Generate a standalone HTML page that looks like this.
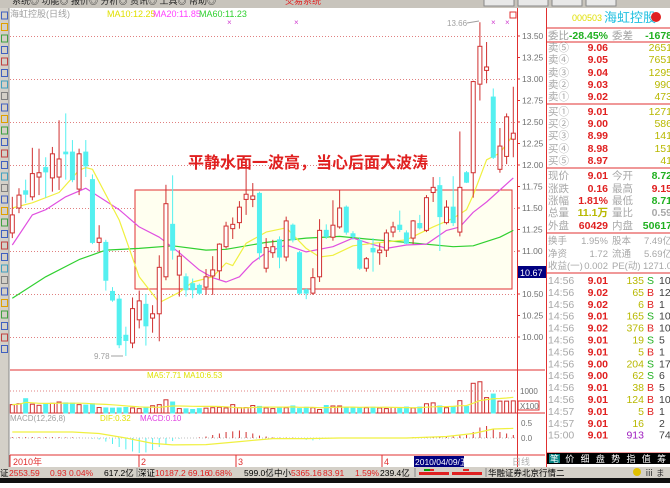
<!DOCTYPE html>
<html><head><meta charset="utf-8">
<style>
html,body{margin:0;padding:0;background:#fff;}
body{width:670px;height:483px;overflow:hidden;position:relative;font-family:"Liberation Sans","WenQuanYi Zen Hei","Noto Sans CJK SC",sans-serif;}
svg text{font-family:"Liberation Sans","WenQuanYi Zen Hei","Noto Sans CJK SC",sans-serif;}
</style></head>
<body>
<svg id="root" width="670" height="483" viewBox="0 0 670 483" xmlns="http://www.w3.org/2000/svg">
  <rect x="0" y="0" width="670" height="483" fill="#ffffff"/>
  <g>
    <rect x="0" y="0" width="670" height="8" fill="#c8c4bc"/>
    <text x="12" y="4" font-size="9" fill="#222">系统◎   功能◎   报价◎   分析◎   资讯◎   工具◎   帮助◎</text>
    <text x="285" y="4" font-size="9" fill="#e02020">交易系统</text>
    <rect x="484" y="-3" width="30" height="9" fill="#e8e8e8" stroke="#888"/>
    <rect x="518" y="-3" width="30" height="9" fill="#e8e8e8" stroke="#888"/>
    <rect x="552" y="-3" width="30" height="9" fill="#e8e8e8" stroke="#888"/>
    <rect x="586" y="-3" width="30" height="9" fill="#e8e8e8" stroke="#888"/>
  </g>
  <g>
    <rect x="0" y="8" width="9" height="460" fill="#d4d0c8"/>
    <line x1="9" y1="8" x2="9" y2="467" stroke="#888"/>
  </g>
  <g id="tbicons"></g>

  <g stroke="#e03030" fill="none">
    <line x1="10" y1="370" x2="545" y2="370"/>
    <line x1="10" y1="413" x2="545" y2="413"/>
    <line x1="10" y1="455" x2="545" y2="455"/>
    <line x1="517.5" y1="8" x2="517.5" y2="467"/>
    <line x1="546.5" y1="8" x2="546.5" y2="467"/>
    <line x1="10" y1="455" x2="10" y2="467"/>
  </g>

  <g id="grid"></g>
  <rect x="135" y="190" width="377" height="99" fill="#fffff0" stroke="#e03030" stroke-width="1"/>
  <g id="mas"></g>
  <g id="candles"></g>
  <g id="yaxis"></g>

  <text x="10" y="17" font-size="9" fill="#a0a0a0">海虹控股(日线)</text>
  <text x="107" y="17" font-size="9" fill="#e0e000">MA10:12.25</text>
  <text x="153" y="17" font-size="9" fill="#ff40ff">MA20:11.85</text>
  <text x="199" y="17" font-size="9" fill="#30d030">MA60:11.23</text>
  <g fill="#d040d0" font-size="8">
    <text x="227" y="25">×</text><text x="294" y="25">×</text><text x="491" y="25">×</text><text x="505" y="25">×</text>
  </g>
  <rect x="510" y="12" width="6" height="6" fill="none" stroke="#e03030"/>

  <text x="188" y="168" font-size="16" font-weight="bold" fill="#e02020">平静水面一波高，当心后面大波涛</text>
  <text x="447" y="26" font-size="8" fill="#a0a0a0">13.66</text>
  <line x1="467" y1="23" x2="479" y2="21" stroke="#a0a0a0"/>
  <text x="94" y="359" font-size="8" fill="#a0a0a0">9.78</text>
  <line x1="111" y1="356" x2="123" y2="356" stroke="#a0a0a0"/>
  <rect x="518" y="266" width="28" height="12" fill="#000080"/>
  <text x="520" y="276" font-size="9" fill="#fff">10.67</text>

  <text x="147" y="378" font-size="8" fill="#e0e000">MA5:7.71 MA10:6.53</text>
  <g id="vol"></g>
  <line x1="10" y1="391" x2="517" y2="391" stroke="#e08080" stroke-dasharray="1,2"/>
  <text x="520" y="394" font-size="8" fill="#707070">1000</text>
  <rect x="518" y="401" width="21" height="9" fill="none" stroke="#e03030"/>
  <text x="520" y="409" font-size="8" fill="#707070">X100</text>

  <text x="10" y="421" font-size="8" fill="#a0a0a0">MACD(12,26,8)</text>
  <text x="100" y="421" font-size="8" fill="#e0e000">DIF:0.32</text>
  <text x="140" y="421" font-size="8" fill="#e040e0">MACD:0.10</text>
  <line x1="10" y1="438" x2="517" y2="438" stroke="#c0c0c0" stroke-dasharray="1,2"/>
  <text x="521" y="426" font-size="8" fill="#707070">0.5</text>
  <text x="521" y="441" font-size="8" fill="#707070">0.0</text>
  <g id="macd"></g>

  <g font-size="9">
    <text x="13" y="465" fill="#e03030">2010年</text>
    <line x1="139" y1="455" x2="139" y2="467" stroke="#e03030"/><text x="141" y="465" fill="#e03030">2</text>
    <line x1="236" y1="455" x2="236" y2="467" stroke="#e03030"/><text x="238" y="465" fill="#e03030">3</text>
    <line x1="382" y1="455" x2="382" y2="467" stroke="#e03030"/><text x="384" y="465" fill="#e03030">4</text>
    <rect x="414" y="456" width="50" height="11" fill="#000080"/>
    <text x="415" y="465" fill="#fff" font-size="8.5">2010/04/09/五</text>
    <text x="512" y="465" fill="#b0b0b0">日线</text>
  </g>

  <g font-size="8.5">
    <rect x="0" y="467" width="670" height="11" fill="#d4d0c8"/>
    <rect x="0" y="478" width="670" height="5" fill="#101010"/>
    <text x="0" y="476" fill="#000">证</text>
    <text x="9" y="476" fill="#e02020">2553.59</text>
    <text x="50" y="476" fill="#e02020">0.93</text>
    <text x="69" y="476" fill="#e02020">0.04%</text>
    <text x="104" y="476" fill="#000">617.2亿</text>
    <line x1="137" y1="468" x2="137" y2="477" stroke="#888"/>
    <text x="138" y="476" fill="#000">深证</text>
    <text x="155" y="476" fill="#e02020">10187.2</text>
    <text x="188" y="476" fill="#e02020">69.16</text>
    <text x="208" y="476" fill="#e02020">0.68%</text>
    <text x="244" y="476" fill="#000">599.0亿</text>
    <line x1="272" y1="468" x2="272" y2="477" stroke="#888"/>
    <text x="274" y="476" fill="#000">中小</text>
    <text x="291" y="476" fill="#e02020">5365.16</text>
    <text x="323" y="476" fill="#e02020">83.91</text>
    <text x="355" y="476" fill="#e02020">1.59%</text>
    <text x="380" y="476" fill="#000">239.4亿</text>
    <line x1="415" y1="468" x2="415" y2="477" stroke="#888"/>
    <g fill="#e02020"><rect x="419" y="472" width="30" height="3"/><rect x="452" y="472" width="30" height="3"/></g>
    <rect x="424" y="469" width="6" height="2" fill="#00a000"/><rect x="430" y="469" width="4" height="2" fill="#e02020"/><rect x="463" y="469" width="6" height="2" fill="#e02020"/>
    <line x1="486" y1="468" x2="486" y2="477" stroke="#888"/>
    <text x="488" y="476" fill="#000">华融证券北京行情二</text>
    <circle cx="637" cy="472" r="4" fill="#e0c000"/>
    <text x="645" y="476" fill="#333">ⅲ</text>
    <text x="656" y="476" fill="#333">ま</text>
  </g>

  <g id="rp" font-size="10.5">
    <text x="572" y="21" font-size="9" fill="#e0e000">000503</text>
    <text x="604" y="22" font-size="13" fill="#20c0e0">海虹控股</text>
    <circle cx="656" cy="17" r="5" fill="#e02020"/>
    <line x1="547" y1="28" x2="670" y2="28" stroke="#e03030"/>
    <text x="548" y="39" fill="#a0a0a0">委比</text>
    <text x="608" y="39" text-anchor="end" fill="#20b020" font-weight="bold">-28.45%</text>
    <text x="612" y="39" fill="#a0a0a0">委差</text>
    <text x="672" y="39" text-anchor="end" fill="#20b020" font-weight="bold">-1678</text>
    <line x1="547" y1="42" x2="670" y2="42" stroke="#e03030"/>
    <line x1="547" y1="104" x2="670" y2="104" stroke="#e03030"/>
    <line x1="547" y1="168" x2="670" y2="168" stroke="#e03030"/>
    <line x1="547" y1="233" x2="670" y2="233" stroke="#e03030"/>
    <line x1="547" y1="273" x2="670" y2="273" stroke="#e03030"/>
    <line x1="547" y1="453" x2="670" y2="453" stroke="#e03030"/>
    <rect x="547" y="453" width="123" height="11" fill="#000"/>
    <rect x="549" y="454" width="11" height="9" fill="#008080"/>
    <text x="550" y="462" font-size="9" fill="#fff" letter-spacing="6.3">笔价细盘势指值筹</text>
  </g>
</svg>
<script>
const dayNums = Array.from({length:76},(_,i)=>i+1);
const opens  = [11.21,11.50,11.70,11.63,11.86,11.97,11.85,11.86,12.15,12.15,11.72,12.15,11.83,11.10,11.10,10.53,10.44,10.02,9.93,10.20,10.38,10.22,10.27,10.70,11.31,10.72,10.70,10.62,10.60,10.58,10.71,10.77,11.05,11.26,11.33,11.60,11.60,11.67,10.80,10.98,11.13,10.93,11.30,10.98,10.55,10.51,10.70,11.24,11.16,11.28,11.51,11.20,11.12,10.80,11.03,10.98,11.01,11.22,11.30,11.21,11.15,11.32,11.24,11.68,11.76,11.33,11.51,11.22,11.91,11.91,12.94,13.10,12.79,11.95,12.10,12.30];
const closes = [11.42,11.65,11.66,11.90,11.91,11.92,12.13,12.07,12.13,11.83,12.13,11.99,11.10,11.15,10.66,10.43,9.91,9.96,10.33,10.42,10.13,10.27,10.81,11.55,11.01,10.94,10.55,10.55,10.51,10.70,10.78,11.08,11.29,11.31,11.51,11.66,11.64,10.98,11.04,11.05,10.93,11.35,11.13,10.51,10.51,10.69,11.24,11.17,11.30,11.50,11.22,11.17,10.80,10.91,10.99,11.01,11.21,11.28,11.25,11.09,11.35,11.27,11.62,11.74,11.40,11.51,11.33,11.74,11.80,12.97,13.38,13.14,12.09,12.22,12.56,12.37];
const highs  = [11.63,11.73,11.83,12.20,12.19,12.09,12.21,12.52,12.60,12.29,12.19,12.29,11.89,11.30,11.13,10.58,10.49,10.12,10.46,10.54,10.50,10.37,10.95,11.77,11.88,11.01,10.74,10.68,10.62,10.79,10.94,11.09,11.34,11.39,11.58,12.06,11.79,11.69,11.15,11.13,11.17,11.40,11.32,11.00,10.57,10.80,11.37,11.31,11.59,11.71,11.53,11.23,11.16,10.93,11.15,11.09,11.25,11.34,11.47,11.24,11.36,11.42,11.65,11.86,11.86,11.59,11.87,12.39,11.93,12.98,13.66,13.43,12.89,12.43,12.60,12.91];
const lows   = [11.15,11.44,11.56,11.59,11.65,11.62,11.69,11.71,11.83,11.80,11.65,11.86,11.08,10.99,10.54,10.41,9.87,9.78,9.87,10.10,9.90,10.05,9.95,10.66,10.90,10.47,10.47,10.45,10.49,10.49,10.49,10.67,11.03,11.14,11.26,11.42,11.51,10.90,10.75,10.92,10.80,10.88,11.10,10.49,10.44,10.49,10.64,11.14,11.12,11.26,11.19,11.13,10.78,10.76,10.76,10.84,10.93,11.16,11.22,11.08,11.08,11.25,11.22,11.57,11.00,11.31,11.29,11.17,11.79,11.62,12.75,12.95,12.07,11.91,12.01,12.09];
const volumes = [380,420,650,400,350,420,440,500,460,450,380,360,420,250,230,220,230,250,230,200,260,330,380,600,500,200,190,160,200,220,240,260,230,380,240,250,340,300,230,200,260,240,320,200,260,240,160,340,320,320,260,240,240,240,260,230,200,250,250,270,230,270,420,460,320,240,300,560,300,1350,1420,700,860,540,540,550];
const ma10Days = [1,4,8,11,12,13,17,20,23,26,28,31,33,34,36,39,42,45,47,49,52,55,60,64,67,69,70,72,74,76];
const ma10Vals = [11.50,11.56,11.68,11.94,11.97,11.95,11.36,10.70,10.40,10.52,10.64,10.70,10.86,10.83,11.09,11.22,11.27,11.03,10.93,10.95,11.06,11.09,11.13,11.28,11.38,11.48,11.65,12.06,12.14,12.35];
const ma20Days = [1,4,6,9,12,14,17,20,23,26,29,31,33,35,37,39,42,45,49,52,54,57,60,63,66,68,70,72,76];
const ma20Vals = [11.07,11.42,11.48,11.63,11.73,11.63,11.48,11.28,11.16,10.98,10.78,10.69,10.64,10.70,10.87,10.98,11.07,10.99,11.05,11.15,11.10,11.03,11.07,11.08,11.24,11.28,11.45,11.57,11.85];
const ma60Days = [1,6,11,15,20,25,30,33,39,45,50,54,60,67,70,74,76];
const ma60Vals = [10.45,10.70,10.90,11.01,11.03,11.06,11.01,11.02,11.10,11.15,11.17,11.14,11.10,11.05,11.06,11.16,11.24];
const difDays = [1,10,14,18,22,25,30,35,40,45,50,60,66,70,73,76];
const difVals = [0.20,0.20,0.15,0.00,-0.18,-0.23,-0.22,-0.12,-0.02,-0.02,0.00,0.00,0.05,0.15,0.30,0.32];
const macdHist = [0.03,0.03,0.03,0.03,0.03,0.03,0.03,0.03,0.02,0.02,0.01,0.0,-0.02,-0.05,-0.12,-0.2,-0.3,-0.38,-0.45,-0.5,-0.48,-0.4,-0.3,-0.2,-0.1,-0.02,0.0,0.0,0.02,0.05,0.1,0.15,0.2,0.22,0.25,0.2,0.15,0.08,0.05,0.02,0.01,0.01,0.01,-0.03,-0.06,-0.08,-0.05,-0.02,0.01,0.01,0.01,0.01,0.01,0.01,0.01,0.01,0.01,0.01,0.01,0.01,0.03,0.03,0.03,0.03,0.03,0.03,0.05,0.08,0.1,0.2,0.35,0.4,0.3,0.2,0.15,0.1];
const priceTicks = ["13.50","13.25","13.00","12.75","12.50","12.25","12.00","11.75","11.50","11.25","11.00","10.75","10.50","10.25","10.00"];

const NS="http://www.w3.org/2000/svg";
function xOf(d){return 12.3+(d-1)*6.68;}
function yP(p){return 36+(13.5-p)*86;}
function yV(v){return 413-v*0.022;}
function yM(m){return 438-m*30;}
function mk(tag,parent){const e=document.createElementNS(NS,tag);parent.appendChild(e);return e;}
const CY="#54f0f0";

const tb=document.getElementById('tbicons');
const icCols=["#4060c0","#e0a000","#40a040","#4060c0","#c04040","#4060c0","#40a0c0","#808080"];
for(let i=0;i<30;i++){
  const r=mk('rect',tb);
  
  
  r.setAttribute('x',1.5);r.setAttribute('y',12+i*11.5);r.setAttribute('width',6);r.setAttribute('height',7);
  r.setAttribute('fill','none');r.setAttribute('stroke',icCols[i%icCols.length]);
}

const grid=document.getElementById('grid'), ya=document.getElementById('yaxis');
priceTicks.forEach((t,i)=>{
  const p=parseFloat(t), y=yP(p);
  if(i%2===0){
    const l=mk('line',grid);
    
    
    l.setAttribute('x1',10);l.setAttribute('x2',517);l.setAttribute('y1',y+0.5);l.setAttribute('y2',y+0.5);
    l.setAttribute('stroke','#e08080');l.setAttribute('stroke-dasharray','1,2');
  }
  const tk=mk('line',ya);
  
  
  tk.setAttribute('x1',517);tk.setAttribute('x2',520);tk.setAttribute('y1',y);tk.setAttribute('y2',y);tk.setAttribute('stroke','#e03030');
  const tx=mk('text',ya);
  
  
  tx.setAttribute('x',522);tx.setAttribute('y',y+3);tx.setAttribute('font-size','8.5');tx.setAttribute('fill','#707070');
  tx.textContent=t;
});

function drawLine(days,vals,color,name,g,yf){
  const pl=mk('polyline',g);
  
  
  pl.setAttribute('points',days.map((d,i)=>xOf(d).toFixed(1)+','+yf(vals[i]).toFixed(1)).join(' '));
  pl.setAttribute('fill','none');pl.setAttribute('stroke',color);pl.setAttribute('stroke-width','1.2');pl.setAttribute('stroke-linejoin','round');
}
const mas=document.getElementById('mas');
drawLine(ma60Days,ma60Vals,'#30d030','ma60-line',mas,yP);
drawLine(ma20Days,ma20Vals,'#e050e0','ma20-line',mas,yP);
drawLine(ma10Days,ma10Vals,'#f0f040','ma10-line',mas,yP);

const cg=document.getElementById('candles');
dayNums.forEach((d,i)=>{
  const x=xOf(d), o=opens[i], c=closes[i], up=c>=o;
  const w=mk('line',cg);
  
  
  w.setAttribute('x1',x);w.setAttribute('x2',x);w.setAttribute('y1',yP(highs[i]));w.setAttribute('y2',yP(lows[i]));w.setAttribute('stroke',up?'#d03030':CY);
  const b=mk('rect',cg);
  
  
  const yt=yP(Math.max(o,c)), yb=yP(Math.min(o,c));
  b.setAttribute('x',x-2);b.setAttribute('width',4);b.setAttribute('y',yt);b.setAttribute('height',Math.max(1,yb-yt));
  b.setAttribute('fill',up?'#ffffff':CY);b.setAttribute('stroke',up?'#d03030':CY);
});

const vg=document.getElementById('vol');
dayNums.forEach((d,i)=>{
  const x=xOf(d), up=closes[i]>=opens[i];
  const r=mk('rect',vg);
  
  
  const y=yV(volumes[i]);
  r.setAttribute('x',x-2);r.setAttribute('width',4);r.setAttribute('y',y);r.setAttribute('height',413-y);
  r.setAttribute('fill',up?'#ffffff':CY);r.setAttribute('stroke',up?'#d03030':CY);
});
const vmaD=[],vmaV=[];
dayNums.forEach((d,i)=>{const s=volumes.slice(Math.max(0,i-9),i+1);vmaD.push(d);vmaV.push(s.reduce((a,b)=>a+b,0)/s.length);});
drawLine(vmaD,vmaV,'#f0f040','volume-ma-line',vg,yV);

const mg=document.getElementById('macd');
dayNums.forEach((d,i)=>{
  const v=macdHist[i]; if(Math.abs(v)<0.005) return;
  const l=mk('line',mg);
  
  
  l.setAttribute('x1',xOf(d));l.setAttribute('x2',xOf(d));l.setAttribute('y1',yM(0));l.setAttribute('y2',yM(v));
  l.setAttribute('stroke',v>=0?'#d03030':CY);
});
drawLine(difDays,difVals,'#f0f040','dif-line',mg,yM);

const rp=document.getElementById('rp');
function t(x,y,s,fill,anchor,bold,name,fs){
  const e=mk('text',rp);
  
  
  e.setAttribute('x',x);e.setAttribute('y',y);e.setAttribute('fill',fill);
  if(anchor)e.setAttribute('text-anchor',anchor);
  if(bold)e.setAttribute('font-weight','bold');
  if(fs)e.setAttribute('font-size',fs);
  e.textContent=s;
}
const GR="#a8a8a8", OL="#b8b800", GN="#20b020";
const sellLbl=["卖⑤","卖④","卖③","卖②","卖①"], sellP=["9.06","9.05","9.04","9.03","9.02"], sellV=["2651","7651","1295","990","473"];
const sellY=[51,63,76,88,100];
sellLbl.forEach((s,i)=>{t(548,sellY[i],s,GR,null,false,'ask-label');t(608,sellY[i],sellP[i],'#e02020','end',true,'ask-price');t(672,sellY[i],sellV[i],OL,'end',false,'ask-volume');});
const buyLbl=["买①","买②","买③","买④","买⑤"], buyP=["9.01","9.00","8.99","8.98","8.97"], buyV=["1271","586","141","151","41"];
const buyY=[115,127,139,152,164];
buyLbl.forEach((s,i)=>{t(548,buyY[i],s,GR,null,false,'bid-label');t(608,buyY[i],buyP[i],'#e02020','end',true,'bid-price');t(672,buyY[i],buyV[i],OL,'end',false,'bid-volume');});
const qL=["现价","涨跌","涨幅","总量","外盘"], qV=["9.01","0.16","1.81%","11.1万","60429"], qC=["#e02020","#e02020","#e02020",OL,"#e02020"];
const qL2=["今开","最高","最低","量比","内盘"], qV2=["8.72","9.15","8.71","0.59","50617"], qC2=[GN,"#e02020",GN,GR,GN];
const qY=[179,192,204,216,229];
qL.forEach((s,i)=>{t(548,qY[i],s,GR,null,false,'quote-label');t(608,qY[i],qV[i],qC[i],'end',true,'quote-value');t(612,qY[i],qL2[i],GR,null,false,'quote-label');t(672,qY[i],qV2[i],qC2[i],'end',true,'quote-value');});
const fL=["换手","净资","收益(一)"], fV=["1.95%","1.72","0.002"], fL2=["股本","流通","PE(动)"], fV2=["7.49亿","5.69亿","1271.0"];
const fY=[244,257,269];
fL.forEach((s,i)=>{t(548,fY[i],s,GR,null,false,'fund-label','9.5');t(608,fY[i],fV[i],GR,'end',false,'fund-value','9.5');t(612,fY[i],fL2[i],GR,null,false,'fund-label','9.5');t(672,fY[i],fV2[i],GR,'end',false,'fund-value','9.5');});
const tkT=["14:56","14:56","14:56","14:56","14:56","14:56","14:56","14:56","14:56","14:56","14:56","14:57","14:57","15:00"];
const tkP=["9.01","9.02","9.02","9.01","9.02","9.01","9.01","9.00","9.00","9.01","9.01","9.01","9.01","9.01"];
const tkV=["135","65","6","165","376","19","5","204","62","38","124","5","16","913"];
const tkS=["S","B","B","S","B","S","B","S","S","B","B","B","",""];
const tkN=["10","12","1","10","10","5","1","17","6","5","10","1","2","74"];
tkT.forEach((s,i)=>{
  const y=284+i*11.9;
  t(548,y,s,GR,null,false,'tick-time');
  t(608,y,tkP[i],'#e02020','end',true,'tick-price');
  t(644,y,tkV[i],i===13?'#a020c0':OL,'end',false,'tick-volume');
  if(tkS[i])t(647,y,tkS[i],tkS[i]==='B'?'#e02020':GN,null,false,'tick-side');
  t(659,y,tkN[i],'#404040',null,false,'tick-count');
});
</script>
</body></html>
